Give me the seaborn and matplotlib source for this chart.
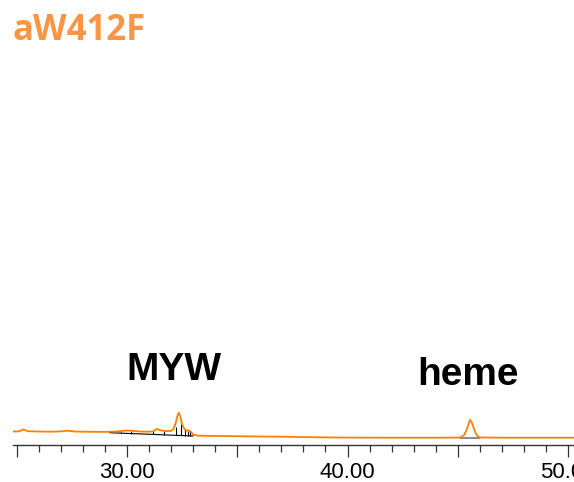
import numpy as np
import pandas as pd
import matplotlib
matplotlib.use("Agg")
import matplotlib.pyplot as plt
from matplotlib.ticker import MultipleLocator, FuncFormatter
import seaborn as sns

# ---- data ----
time_min = [24.83, 25.1, 25.3, 25.5, 26.0, 26.5, 27.0, 27.3, 27.6, 28.0, 28.5, 29.0,
            29.5, 30.0, 30.3, 30.6, 31.0, 31.2, 31.35, 31.5, 31.7, 32.0, 32.1, 32.2,
            32.3, 32.35, 32.42, 32.5, 32.6, 32.7, 32.8, 32.9, 33.0, 33.2, 34.0, 35.0,
            36.0, 37.0, 38.0, 39.0, 40.0, 42.0, 44.0, 45.0, 45.15, 45.3, 45.4, 45.5,
            45.55, 45.62, 45.7, 45.8, 45.9, 46.0, 47.0, 48.0, 50.3]
signal = [13.5, 13.6, 15.6, 13.8, 13.5, 13.3, 13.6, 14.3, 13.5, 13.3, 13.2, 13.1,
          13.5, 14.5, 14.1, 13.5, 13.3, 13.8, 16.1, 14.8, 13.9, 14.1, 15.8, 21.3,
          30.3, 32.3, 28.3, 20.3, 16.3, 14.3, 14.6, 13.3, 10.3, 9.3, 9.1, 8.8,
          8.5, 8.3, 7.9, 7.6, 7.4, 7.3, 7.3, 7.4, 7.7, 10.3, 15.3, 21.3,
          25.0, 23.3, 18.3, 12.3, 8.8, 7.6, 7.3, 7.3, 7.3]

# integration baseline (black) under the MYW region
base_time = [29.2, 33.0]
base_signal = [12.3, 9.0]
# heme integration baseline (grey)
heme_base_time = [45.1, 46.0]
heme_base_signal = [7.0, 7.0]
# integration drop lines
drop_time = [29.73, 30.2, 31.2, 31.69, 32.2, 32.45, 32.64, 32.75, 32.85]
drop_top = [13.3, 14.3, 13.8, 13.6, 18.5, 24.0, 16.0, 14.3, 14.5]
drop_bottom = [11.8, 11.4, 10.6, 10.2, 9.8, 9.6, 9.4, 9.3, 9.3]

tick_labels = ["30.00", "40.00", "50.00"]
title_text = "aW412F"
peak_labels = ["MYW", "heme"]

# ---- plot ----
sns.set_style("white")
plt.rcParams["font.family"] = ["Liberation Sans", "DejaVu Sans"]

W, H = 574, 482
fig = plt.figure(figsize=(W / 100, H / 100), dpi=100)
ax = fig.add_axes([13 / W, (H - 445) / H, (W - 13) / W, 50 / H])

df = pd.DataFrame({"time": time_min, "signal": signal})
ax.plot(base_time, base_signal, color="black", lw=0.8)
ax.plot(heme_base_time, heme_base_signal, color="#777777", lw=1.2)
ax.vlines(drop_time, drop_bottom, drop_top, color="black", lw=0.8)
sns.lineplot(data=df, x="time", y="signal", ax=ax, color="#FF8000", lw=1.3,
             estimator=None, sort=False)

ax.set_xlim(24.83, 50.27)
ax.set_ylim(0, 50)
ax.set_xlabel("")
ax.set_ylabel("")
ax.set_yticks([])
for s in ["top", "right", "left"]:
    ax.spines[s].set_visible(False)
ax.spines["bottom"].set_color("#333333")
ax.spines["bottom"].set_linewidth(1.0)
ax.patch.set_alpha(0)

label_map = {30: tick_labels[0], 40: tick_labels[1], 50: tick_labels[2]}
ax.xaxis.set_major_locator(MultipleLocator(5))
ax.xaxis.set_minor_locator(MultipleLocator(1))
ax.xaxis.set_major_formatter(FuncFormatter(lambda v, p: label_map.get(int(round(v)), "")))
for lbl in ax.get_xticklabels():
    lbl.set_family(["Liberation Sans", "DejaVu Sans"])
ax.tick_params(axis="x", which="major", length=8.6, width=0.9, color="#333333",
               labelsize=16, pad=4, bottom=True, labelcolor="black")
ax.tick_params(axis="x", which="minor", length=5, width=0.9, color="#333333", bottom=True)

fig.text(12 / W, 1 - 39.5 / H, title_text, color="#F79646", fontsize=25,
         fontweight="bold", family=["Open Sans", "DejaVu Sans"], ha="left", va="baseline")
fig.text(174 / W, 1 - 380 / H, peak_labels[0], color="black", fontsize=28,
         fontweight="bold", ha="center", va="baseline")
fig.text(468 / W, 1 - 385 / H, peak_labels[1], color="black", fontsize=28,
         fontweight="bold", ha="center", va="baseline")

fig.savefig("out.png", dpi=100)
